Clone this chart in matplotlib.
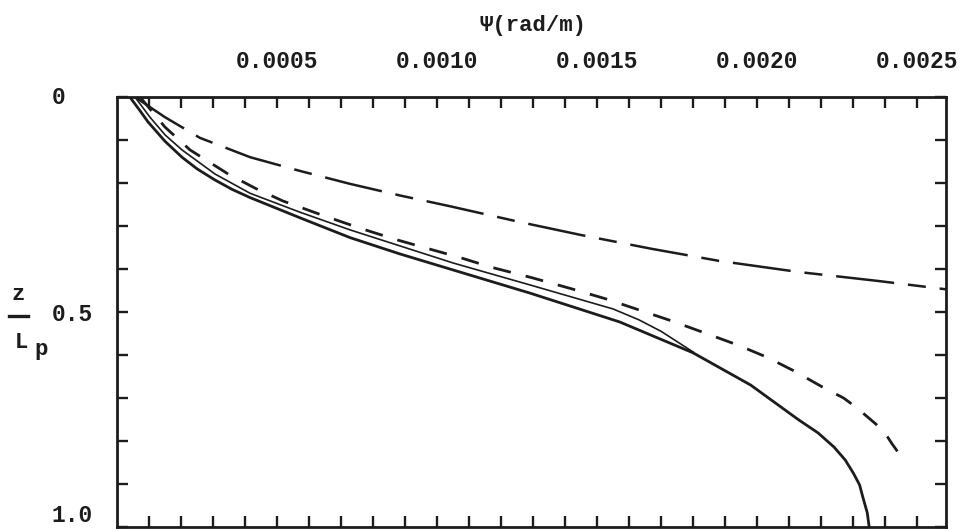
import matplotlib
matplotlib.use("Agg")
import matplotlib.pyplot as plt
from matplotlib.lines import Line2D
from matplotlib.ticker import FixedLocator, FixedFormatter

plt.rcParams['lines.scale_dashes'] = False

# ---- data: curvature psi (rad/m) vs depth ratio z/Lp ----
solid_psi = [0.00004, 0.00007, 0.000097, 0.00015, 0.000203, 0.00025, 0.000306, 0.00036,
             0.000416, 0.000572, 0.000728, 0.000884, 0.00104, 0.00129, 0.00157, 0.00180,
             0.00198, 0.00213, 0.00219, 0.00224, 0.002275, 0.0023, 0.00232, 0.00233,
             0.002344, 0.00235]
solid_z = [0.0, 0.03, 0.058, 0.103, 0.140, 0.167, 0.193, 0.215,
           0.234, 0.281, 0.327, 0.365, 0.400, 0.456, 0.523, 0.595,
           0.670, 0.751, 0.781, 0.814, 0.844, 0.874, 0.902, 0.930,
           0.967, 1.0]

thin_psi = [0.000056, 0.000103, 0.00015, 0.000203, 0.000306, 0.000416, 0.000572, 0.000728,
            0.00105, 0.00129, 0.00155, 0.00163, 0.0017, 0.0018]
thin_z = [0.0, 0.047, 0.088, 0.123, 0.179, 0.224, 0.268, 0.309,
          0.386, 0.437, 0.493, 0.518, 0.545, 0.593]

dash_psi = [0.000072, 0.00015, 0.000228, 0.000347, 0.000434, 0.000519, 0.000638, 0.000759,
            0.000869, 0.000969, 0.00107, 0.00117, 0.0013, 0.00142, 0.00153, 0.00163,
            0.00173, 0.00183, 0.00194, 0.00203, 0.00211, 0.00221, 0.00227, 0.00231,
            0.00237, 0.0024, 0.00242, 0.00244]
dash_z = [0.0, 0.07, 0.123, 0.179, 0.213, 0.242, 0.274, 0.305,
          0.331, 0.352, 0.373, 0.396, 0.421, 0.446, 0.470, 0.495,
          0.520, 0.547, 0.577, 0.605, 0.635, 0.677, 0.70, 0.722,
          0.760, 0.782, 0.805, 0.826]

long_psi = [0.000056, 0.00015, 0.000259, 0.000416, 0.000572, 0.000728, 0.000884, 0.00104,
            0.00126, 0.00145, 0.00167, 0.00188, 0.00213, 0.00238, 0.00262]
long_z = [0.0, 0.047, 0.095, 0.140, 0.172, 0.202, 0.229, 0.254,
          0.291, 0.321, 0.353, 0.381, 0.407, 0.428, 0.450]

x_ticks = [k * 0.0001 for k in range(1, 26)]
x_tick_labels = ['0.0005', '0.0010', '0.0015', '0.0020', '0.0025']
y_ticks = [k / 10 for k in range(0, 11)]
y_tick_labels = ['0', '0.5', '1.0']

ink = '#1c1c1c'
font = ['Liberation Mono', 'DejaVu Sans Mono']

fig = plt.figure(figsize=(9.68, 5.31), dpi=100)
ax = fig.add_axes([117 / 968, 1 - 527 / 531, (946 - 117) / 968, (527 - 97) / 531])

ax.plot(solid_psi, solid_z, color=ink, lw=2.0, solid_joinstyle='round')
ax.plot(thin_psi, thin_z, color=ink, lw=1.2, solid_joinstyle='round')
ax.plot(dash_psi, dash_z, color=ink, lw=2.0, linestyle=(0, (13, 11)))
ax.plot(long_psi, long_z, color=ink, lw=1.8, linestyle=(0, (42, 10, 13, 10)))

ax.set_xlim(0, 0.00259)
ax.set_ylim(1.0, 0.0)

# x ticks: every 0.0001, labels only at multiples of 0.0005, on top
lab_iter = iter(x_tick_labels)
xl = [next(lab_iter) if (k % 5 == 0) else '' for k in range(1, 26)]
ax.xaxis.set_major_locator(FixedLocator(x_ticks))
ax.xaxis.set_major_formatter(FixedFormatter(xl))
lab_iter = iter(y_tick_labels)
yl = [next(lab_iter) if (k % 5 == 0) else '' for k in range(0, 11)]
ax.yaxis.set_major_locator(FixedLocator(y_ticks))
ax.yaxis.set_major_formatter(FixedFormatter(yl))

ax.tick_params(axis='x', which='major', direction='in', length=8, width=1.7, color=ink,
               top=True, bottom=True, labeltop=True, labelbottom=False, pad=17,
               labelsize=16.5, labelcolor=ink)
ax.tick_params(axis='y', which='major', direction='in', length=8, width=1.7, color=ink,
               left=True, right=True, labelleft=True, labelright=False, pad=47,
               labelsize=16.5, labelcolor=ink)
for t in ax.get_xticklabels() + ax.get_yticklabels():
    t.set_fontfamily(font)
    t.set_fontweight('bold')
ylabs = ax.get_yticklabels()
for t in ylabs:
    t.set_horizontalalignment('left')
ylabs[-1].set_verticalalignment('bottom')
ylabs[0].set_verticalalignment('center')

for s in ax.spines.values():
    s.set_linewidth(2.0)
    s.set_color(ink)

# axis titles
fig.text(533 / 968, 1 - 26 / 531, 'Ψ(rad/m)', ha='center', va='center',
         fontsize=16, fontweight='bold', family=font, color=ink)
fig.text(18 / 968, 1 - 294 / 531, 'z', ha='center', va='center',
         fontsize=16, fontweight='bold', family=font, color=ink)
fig.add_artist(Line2D([9 / 968, 28 / 968], [1 - 316 / 531] * 2, color=ink, lw=2.4,
                      transform=fig.transFigure))
fig.text(21 / 968, 1 - 342 / 531, 'L', ha='center', va='center',
         fontsize=16, fontweight='bold', family=font, color=ink)
fig.text(41 / 968, 1 - 350 / 531, 'p', ha='center', va='center',
         fontsize=16, fontweight='bold', family=font, color=ink)

fig.savefig('out.png', dpi=100, facecolor='white')
